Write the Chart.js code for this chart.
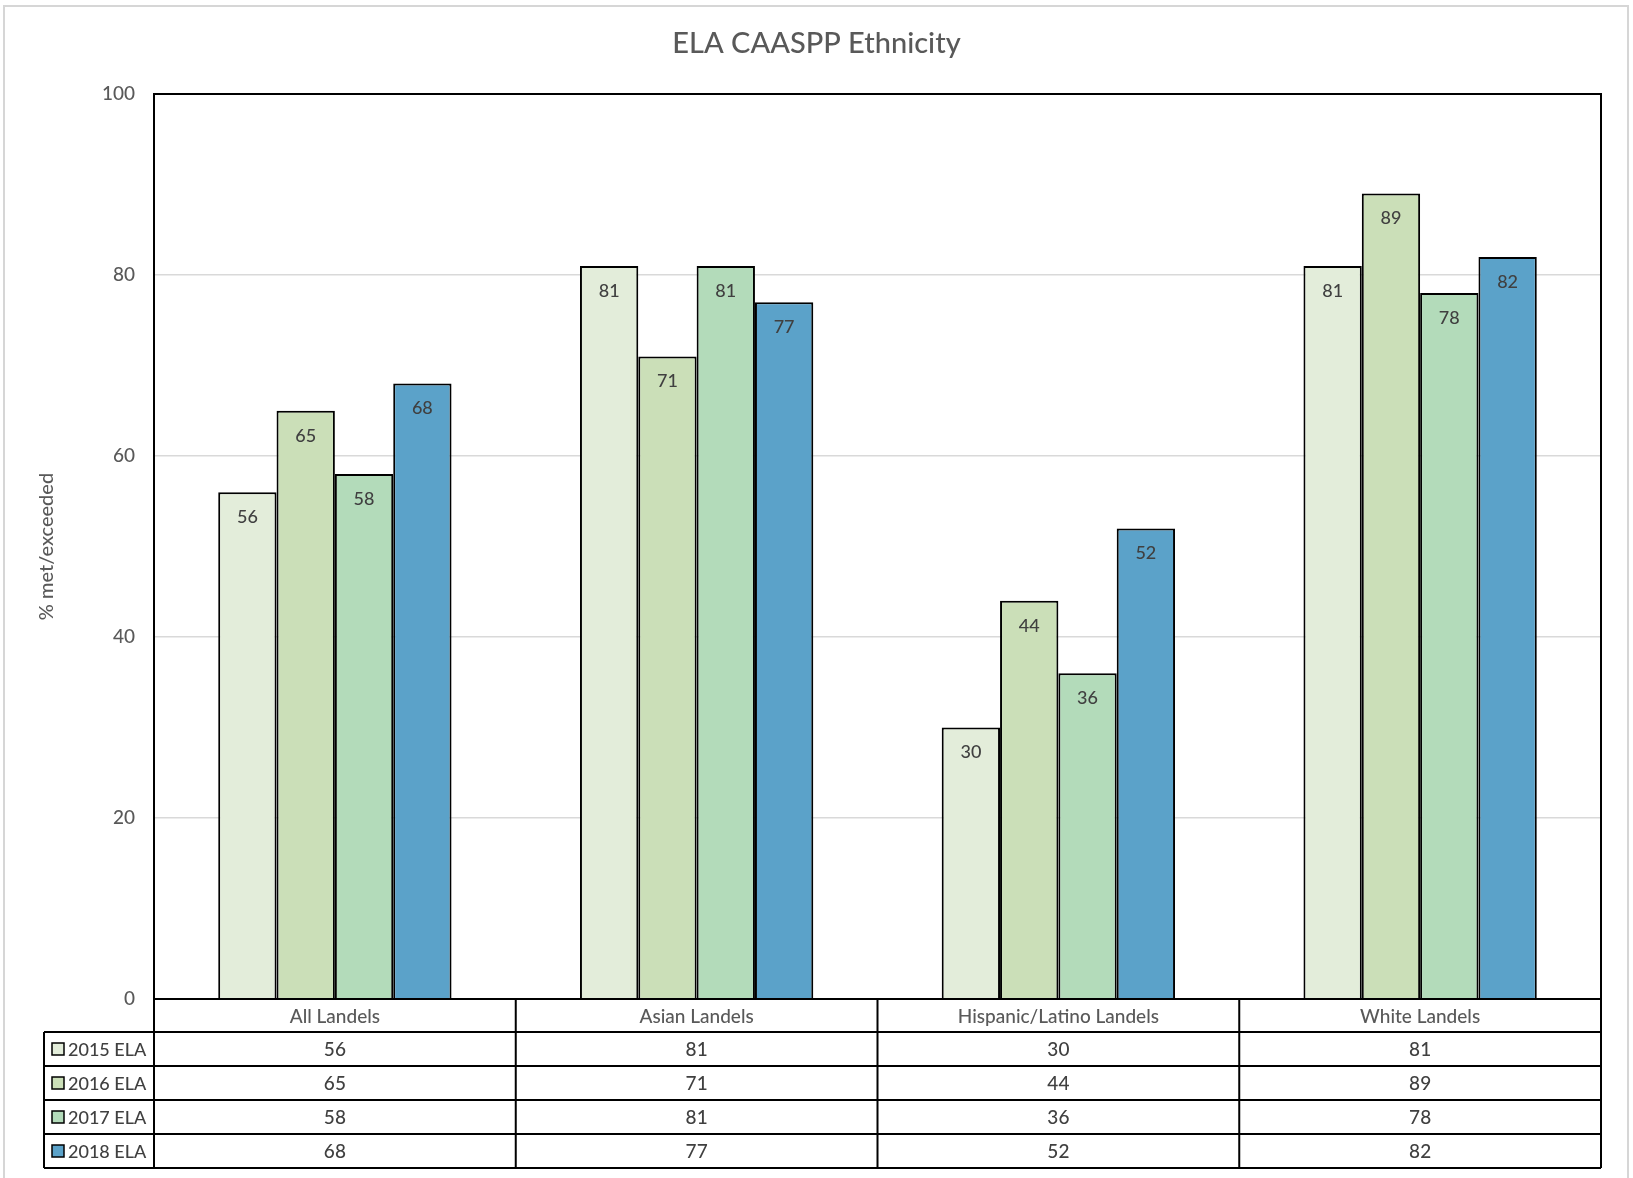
<!DOCTYPE html>
<html>
<head>
<meta charset="utf-8">
<title>ELA CAASPP Ethnicity</title>
<script src="https://cdn.jsdelivr.net/npm/chart.js@4/dist/chart.umd.min.js"></script>
<style>
  html, body { margin: 0; padding: 0; background: #ffffff; }
  #wrap { width: 1633px; height: 1178px; position: relative; }
</style>
</head>
<body>
<div id="wrap"><canvas id="chart" width="1633" height="1178"></canvas></div>
<script>
// Groups along the x axis
const categories = ['All Landels', 'Asian Landels', 'Hispanic/Latino Landels', 'White Landels'];
// Series names (one per test year)
const seriesLabels = ['2015 ELA', '2016 ELA', '2017 ELA', '2018 ELA'];
// Percent met/exceeded per group
const ela2015 = [56, 81, 30, 81];
const ela2016 = [65, 71, 44, 89];
const ela2017 = [58, 81, 36, 78];
const ela2018 = [68, 77, 52, 82];
// Value axis ticks
const yTickValues = [0, 20, 40, 60, 80, 100];
const chartTitle = 'ELA CAASPP Ethnicity';

const seriesValues = [ela2015, ela2016, ela2017, ela2018];
const seriesColors = ['#E3EDDA', '#CBDFB8', '#B3DBBA', '#5BA2C9'];

const FONT = 'Lato, "Open Sans", "Liberation Sans", sans-serif';

// Light frame around the whole figure and the centred title
const framePlugin = {
  id: 'frame',
  beforeDraw(chart) {
    const ctx = chart.ctx;
    ctx.save();
    ctx.fillStyle = '#ffffff';
    ctx.fillRect(0, 0, chart.width, chart.height);
    ctx.strokeStyle = '#d6d6d6';
    ctx.lineWidth = 2;
    ctx.strokeRect(4, 6, 1624, 1200);
    ctx.font = '500 29px ' + FONT;
    ctx.fillStyle = '#595959';
    ctx.textAlign = 'center';
    ctx.textBaseline = 'middle';
    ctx.fillText(chartTitle, chart.width / 2, 44);
    ctx.restore();
  }
};

// Value labels just inside the top of each bar
const barLabelPlugin = {
  id: 'barLabels',
  afterDatasetsDraw(chart) {
    const ctx = chart.ctx;
    ctx.save();
    ctx.font = '500 18px ' + FONT;
    ctx.fillStyle = '#404040';
    ctx.textAlign = 'center';
    ctx.textBaseline = 'middle';
    chart.data.datasets.forEach((ds, di) => {
      const meta = chart.getDatasetMeta(di);
      meta.data.forEach((bar, i) => {
        ctx.fillText(String(ds.data[i]), bar.x, bar.y + 25);
      });
    });
    ctx.restore();
  }
};

// Plot border plus the data table under the axis
const tablePlugin = {
  id: 'dataTable',
  afterDraw(chart) {
    const ctx = chart.ctx;
    const area = chart.chartArea;
    const xs = chart.scales.x;
    const n = categories.length;
    const catW = (area.right - area.left) / n;
    const top = area.bottom;
    const catH = 33;
    const rowH = 34;
    const legendLeft = 44;
    const rowsTop = top + catH;
    const bottom = rowsTop + rowH * seriesLabels.length;

    ctx.save();
    ctx.strokeStyle = '#000000';
    ctx.lineWidth = 2;
    // plot border
    ctx.strokeRect(area.left, area.top, area.right - area.left, area.bottom - area.top);

    ctx.beginPath();
    // horizontal rules
    ctx.moveTo(area.left, top); ctx.lineTo(area.right, top);
    for (let k = 0; k <= seriesLabels.length; k++) {
      const y = rowsTop + k * rowH;
      ctx.moveTo(legendLeft, y); ctx.lineTo(area.right, y);
    }
    // vertical rules
    ctx.moveTo(legendLeft, rowsTop); ctx.lineTo(legendLeft, bottom);
    for (let c = 0; c <= n; c++) {
      const x = area.left + c * catW;
      ctx.moveTo(x, top); ctx.lineTo(x, bottom);
    }
    ctx.stroke();

    ctx.textAlign = 'center';
    ctx.textBaseline = 'middle';
    // category names
    ctx.font = '500 19px ' + FONT;
    ctx.fillStyle = '#595959';
    categories.forEach((name, i) => {
      ctx.fillText(name, xs.getPixelForValue(i), top + catH / 2 + 1);
    });
    // values
    ctx.font = '500 19px ' + FONT;
    ctx.fillStyle = '#404040';
    seriesValues.forEach((vals, r) => {
      const yc = rowsTop + r * rowH + rowH / 2 + 1;
      vals.forEach((v, i) => {
        ctx.fillText(String(v), xs.getPixelForValue(i), yc);
      });
    });
    // legend keys and series names
    ctx.textAlign = 'left';
    ctx.font = '500 18px ' + FONT;
    seriesLabels.forEach((label, r) => {
      const yc = rowsTop + r * rowH + rowH / 2;
      ctx.fillStyle = seriesColors[r];
      ctx.fillRect(legendLeft + 8, yc - 6, 12, 12);
      ctx.lineWidth = 1.5;
      ctx.strokeStyle = '#000000';
      ctx.strokeRect(legendLeft + 8, yc - 6, 12, 12);
      ctx.fillStyle = '#404040';
      ctx.fillText(label, legendLeft + 24, yc + 1);
    });
    ctx.restore();
  }
};

new Chart(document.getElementById('chart'), {
  type: 'bar',
  data: {
    labels: categories,
    datasets: seriesLabels.map((label, i) => ({
      label: label,
      data: seriesValues[i],
      backgroundColor: seriesColors[i],
      borderColor: '#000000',
      borderWidth: 2,
      categoryPercentage: 0.645,
      barPercentage: 1.0
    }))
  },
  options: {
    responsive: false,
    animation: false,
    layout: { padding: { left: 0, right: 32, top: 94, bottom: 179 } },
    plugins: {
      legend: { display: false },
      tooltip: { enabled: false },
      title: { display: false }
    },
    scales: {
      x: {
        display: false
      },
      y: {
        min: 0,
        max: 100,
        afterBuildTicks(scale) {
          scale.ticks = yTickValues.map(v => ({ value: v }));
        },
        afterFit(scale) { scale.width = 154; },
        border: { display: false },
        grid: { color: '#d9d9d9', lineWidth: 1.5, drawTicks: false },
        ticks: {
          padding: 19,
          color: '#595959',
          font: { family: FONT, size: 19, weight: '500' }
        },
        title: {
          display: true,
          text: '% met/exceeded',
          color: '#595959',
          font: { family: FONT, size: 20, weight: '500' },
          padding: { top: 35, bottom: 0 }
        }
      }
    }
  },
  plugins: [framePlugin, barLabelPlugin, tablePlugin]
});
</script>
</body>
</html>
